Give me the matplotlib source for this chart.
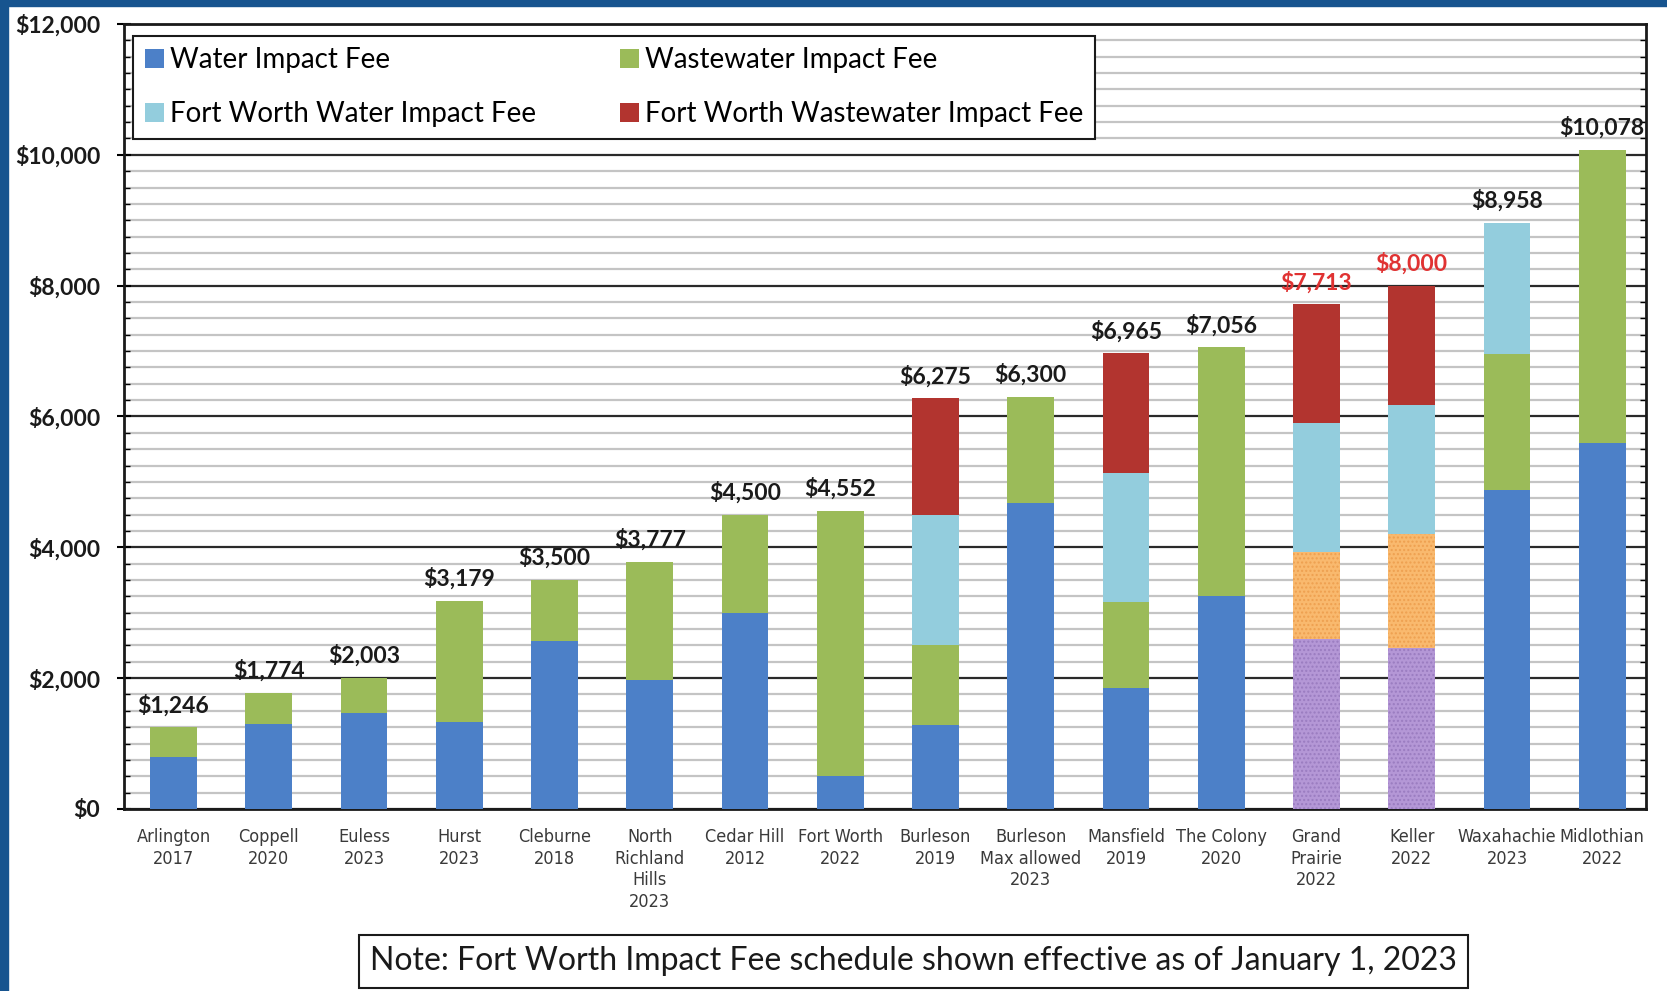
"""
Impact fee comparison - stacked bars
"""
import numpy as np
import matplotlib.pyplot as plt
from matplotlib.patches import Rectangle
from matplotlib.ticker import MultipleLocator, StrMethodFormatter

cities = [
    "Arlington\n2017", "Coppell\n2020", "Euless\n2023", "Hurst\n2023",
    "Cleburne\n2018", "North\nRichland\nHills\n2023", "Cedar Hill\n2012",
    "Fort Worth\n2022", "Burleson\n2019", "Burleson\nMax allowed\n2023",
    "Mansfield\n2019", "The Colony\n2020", "Grand\nPrairie\n2022",
    "Keller\n2022", "Waxahachie\n2023", "Midlothian\n2022",
]
water = [800, 1300, 1460, 1330, 2560, 1970, 3000, 500, 1280, 4680, 1850, 3260, 0, 0, 4880, 5600]
wastewater = [446, 474, 543, 1849, 940, 1807, 1500, 4052, 1220, 1620, 1320, 3796, 0, 0, 2080, 4478]
fw_water = [0, 0, 0, 0, 0, 0, 0, 0, 1990, 0, 1960, 0, 1970, 1960, 1998, 0]
fw_wastewater = [0, 0, 0, 0, 0, 0, 0, 0, 1785, 0, 1835, 0, 1813, 1830, 0, 0]
# textured segments (not in the legend)
water_other = [0] * 12 + [2600, 2460, 0, 0]
wastewater_other = [0] * 12 + [1330, 1750, 0, 0]
red_labels = ["Grand\nPrairie\n2022", "Keller\n2022"]

BLUE = "#4c80c8"
GREEN = "#9bbb59"
LBLUE = "#93cddd"
RED = "#b2342f"
PURPLE = "#b497d6"
ORANGE = "#f9b96e"
FONT = ["Lato", "DejaVu Sans"]


def main():
    fig = plt.figure(figsize=(16.67, 9.91), dpi=100, facecolor="white")
    ax = fig.add_axes([0.0744, 0.1837, 0.9130, 0.7921])

    x = np.arange(len(cities))
    w = 0.49
    water_a = np.array(water)
    ww_a = np.array(wastewater)
    fww_a = np.array(fw_water)
    fwww_a = np.array(fw_wastewater)
    wo = np.array(water_other)
    wwo = np.array(wastewater_other)

    b1 = ax.bar(x, water_a, w, color=BLUE, label="Water Impact Fee", zorder=3)
    ax.bar(x, wo, w, color=PURPLE, hatch="....", edgecolor="#9a7cc0", linewidth=0, zorder=3)
    base = water_a + wo
    b2 = ax.bar(x, ww_a, w, bottom=base, color=GREEN, label="Wastewater Impact Fee", zorder=3)
    ax.bar(x, wwo, w, bottom=base, color=ORANGE, hatch="....", edgecolor="#eea050", linewidth=0, zorder=3)
    base = base + ww_a + wwo
    b3 = ax.bar(x, fww_a, w, bottom=base, color=LBLUE, label="Fort Worth Water Impact Fee", zorder=3)
    base = base + fww_a
    b4 = ax.bar(x, fwww_a, w, bottom=base, color=RED, label="Fort Worth Wastewater Impact Fee", zorder=3)
    totals = base + fwww_a

    for i, t in enumerate(totals):
        col = "#e03232" if cities[i] in red_labels else "#1a1a1a"
        ax.annotate(f"${t:,}", (x[i], t), xytext=(0, 8), textcoords="offset points",
                    ha="center", va="bottom", fontsize=16.5, fontweight="bold",
                    family=FONT, color=col)

    ax.set_xlim(-0.52, len(cities) - 0.54)
    ax.set_ylim(0, 12000)
    ax.yaxis.set_major_locator(MultipleLocator(2000))
    ax.yaxis.set_minor_locator(MultipleLocator(250))
    ax.yaxis.set_major_formatter(StrMethodFormatter("${x:,.0f}"))
    ax.grid(axis="y", which="minor", color="#c4c4c4", linewidth=1.6, zorder=0)
    ax.grid(axis="y", which="major", color="#2a2a2a", linewidth=1.6, zorder=1)
    ax.set_axisbelow(True)

    ax.set_xticks(x)
    ax.set_xticklabels(cities, fontsize=13, family="DejaVu Sans", fontstretch="condensed",
                       color="#3a3a3a", linespacing=1.25)
    ax.tick_params(axis="x", length=0, pad=14)
    ax.tick_params(axis="y", which="major", length=10, width=1.5, direction="inout", pad=12)
    ax.tick_params(axis="y", which="minor", length=4, width=1, direction="in", right=True)
    for lbl in ax.get_yticklabels():
        lbl.set_fontsize(16.5)
        lbl.set_fontweight("bold")
        lbl.set_family(FONT)
        lbl.set_color("#1a1a1a")
    for s in ax.spines.values():
        s.set_linewidth(2)
        s.set_color("#1a1a1a")

    leg = ax.legend(handles=[b1, b3, b2, b4], ncol=2, loc="upper left",
                    bbox_to_anchor=(0.006, 0.985, 0.632, 0.0), mode="expand",
                    borderaxespad=0, fancybox=False, framealpha=1, edgecolor="#1a1a1a",
                    prop={"family": FONT, "size": 20},
                    handlelength=0.7, handleheight=0.7, handletextpad=0.2,
                    labelspacing=1.0, borderpad=0.42)
    leg.get_frame().set_linewidth(1.5)
    leg.set_zorder(5)

    fig.text(0.548, 0.030, "Note: Fort Worth Impact Fee schedule shown effective as of January 1, 2023",
             ha="center", va="center", fontsize=23, family=FONT, color="#1a1a1a",
             bbox=dict(boxstyle="square,pad=0.36", facecolor="white", edgecolor="#1a1a1a", linewidth=1.5))

    # blue frame on left and top edges
    fig.patches.append(Rectangle((0, 0), 8 / 1667, 1, transform=fig.transFigure,
                                 color="#17548f", zorder=0))
    fig.patches.append(Rectangle((0, 1 - 6 / 991), 1, 6 / 991, transform=fig.transFigure,
                                 color="#17548f", zorder=0))

    fig.savefig("out.png", dpi=100, facecolor="white")


if __name__ == "__main__":
    main()
